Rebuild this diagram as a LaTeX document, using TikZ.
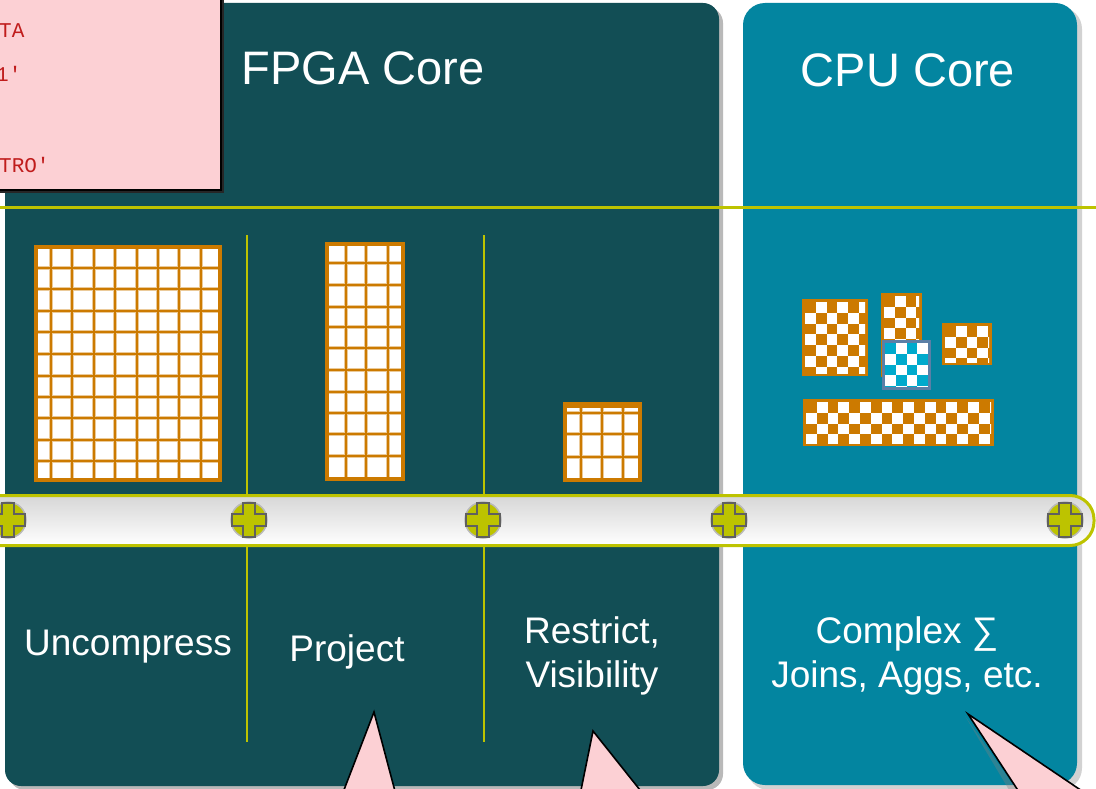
\documentclass[tikz,border=0pt]{standalone}
\usepackage{fontspec}
\setmainfont{Liberation Sans}
\newfontfamily\codefont{Liberation Mono}
\definecolor{fpga}{RGB}{18,78,85}
\definecolor{cpu}{RGB}{3,133,160}
\definecolor{lime}{RGB}{189,195,0}
\definecolor{orng}{RGB}{204,122,0}
\definecolor{cyanck}{RGB}{0,170,204}
\definecolor{pinkc}{RGB}{252,208,212}
\definecolor{redtxt}{RGB}{192,28,28}
\definecolor{bluebord}{RGB}{91,127,166}
\newcommand\ogrid[6]{%
 \fill[white] (#1,#2) rectangle (#3,#4);
 \foreach \gx in {#5}{\draw[orng!40,line width=4] (\gx,#2)--(\gx,#4);}
 \foreach \gy in {#6}{\draw[orng!40,line width=4] (#1,\gy)--(#3,\gy);}
 \foreach \gx in {#5}{\draw[orng,line width=1.5] (\gx,#2)--(\gx,#4);}
 \foreach \gy in {#6}{\draw[orng,line width=1.5] (#1,\gy)--(#3,\gy);}
 \draw[orng,line width=4] (#1+2,#2+2) rectangle (#3-2,#4-2);}
\newcommand\chk[5]{%
 \fill[#5] (#1,#2) rectangle (#3,#4);
 \begin{scope}
 \clip (#1+3,#2+3) rectangle (#3-3,#4-3);
 \foreach \ci in {0,...,18}{\foreach \cj in {0,...,8}{%
   \pgfmathtruncatemacro\cpar{mod(\ci+\cj,2)}%
   \ifnum\cpar=1 \fill[white] ({#1+3+\ci*10.8},{#2+3+\cj*10.8}) rectangle ({#1+3+\ci*10.8+10.8},{#2+3+\cj*10.8+10.8});\fi
 }}
 \end{scope}}
\tikzset{
 title/.style={text=white,font=\fontsize{47}{56}\selectfont,inner sep=0},
 lbl/.style={text=white,font=\fontsize{37}{44}\selectfont,inner sep=0,anchor=base},
 code/.style={text=redtxt,font=\codefont\fontsize{21}{26}\selectfont,inner sep=0,anchor=base west},
 plusdisc/.style={circle,minimum size=36,inner sep=0,fill=lime,draw=gray!55,line width=1.5},
 callout/.style={fill=pinkc,draw=black,line width=1.6,line join=miter},
}
\begin{document}
\begin{tikzpicture}[x=1pt,y=-1pt]
\useasboundingbox (0,0) rectangle (1096,789);
\begin{scope}
\clip (0,0) rectangle (1096,789);
\fill[white] (0,0) rectangle (1096,789);
% panels with shadows
\fill[gray!55,rounded corners=16] (9,7) rectangle (723,790);
\fill[fpga,rounded corners=16] (5,3) rectangle (719,786);
\fill[gray!35,rounded corners=22] (747,7) rectangle (1082,790);
\fill[cpu,rounded corners=22] (743,3) rectangle (1077,785);
% horizontal lime line
\coordinate (hl) at (0,208);
\coordinate (hr) at (1096,208);
\draw[lime,line width=3] (hl) -- (hr);
% vertical dividers
\coordinate (d1t) at (247,235); \coordinate (d1b) at (247,742);
\coordinate (d2t) at (484,235); \coordinate (d2b) at (484,742);
\draw[lime,line width=1.6] (d1t) -- (d1b);
\draw[lime,line width=1.6] (d2t) -- (d2b);
% grids
\ogrid{34}{245}{222}{482}{51,72,94,115,137,158,179,201}{268,289,311,332,354,376,397,418,440,461}
\ogrid{325}{242}{405}{481}{346,366,388}{263,285,307,327,348,370,392,413,434,456}
\ogrid{563}{402}{642}{482}{581,602,623}{413,434,457}
\fill[orng] (563,402) rectangle (642,408);
% checkers
\chk{802}{299}{868}{376}{orng}
\chk{881}{293}{922}{377}{orng}
\chk{942}{323}{992}{365}{orng}
\chk{803}{399}{994}{446}{orng}
\chk{882}{340}{931}{390}{cyanck}
\draw[bluebord,line width=3] (883.5,341.5) rectangle (929.5,388.5);
% pipe bar
\draw[lime,line width=3,top color=gray!32,bottom color=white,rounded corners=24] (-40,495.5) rectangle (1094,545.5);
\foreach \cx [count=\k] in {8,249,483,729,1065}{
  \node[plusdisc] (plus\k) at (\cx,520) {};
  \draw[gray!75!black,line width=1.6,fill=lime,line join=miter]
    (plus\k.center) ++(-17,-6) -- ++(11,0) -- ++(0,-11) -- ++(12,0) -- ++(0,11) -- ++(11,0)
    -- ++(0,12) -- ++(-11,0) -- ++(0,11) -- ++(-12,0) -- ++(0,-11) -- ++(-11,0) -- cycle;
}
% titles
\node[title] (fpgat) at (363,68) {FPGA Core};
\node[title] (cput) at (908,70) {CPU Core};
% labels
\node[lbl] (unc) at (128,655) {Uncompress};
\node[lbl] (proj) at (347,661) {Project};
\node[lbl] (res1) at (592,643) {Restrict,};
\node[lbl] (res2) at (592,687) {Visibility};
\node[lbl] (cmp1) at (907,643) {Complex ∑};
\node[lbl] (cmp2) at (907,687) {Joins, Aggs, etc.};
% pink note box top-left
\fill[black!85] (-20,-20) rectangle (224,193);
\draw[callout] (-20,-20) rectangle (221,190);
\node[code] (c1) at (-1,38) {TA};
\node[code] (c2) at (-4,82) {1'};
\node[code] (c4) at (-1,173) {TRO'};
% bottom callout pointers
\draw[callout] (374,712) -- (396,795) -- (342,795) -- cycle;
\draw[callout] (593,731) -- (644,795) -- (580,795) -- cycle;
\fill[black!50,opacity=0.35] (965,716) -- (1020,795) -- (1012,795) -- cycle;
\draw[callout] (968,714) -- (1088,795) -- (1021,795) -- cycle;
\end{scope}
\end{tikzpicture}
\end{document}
